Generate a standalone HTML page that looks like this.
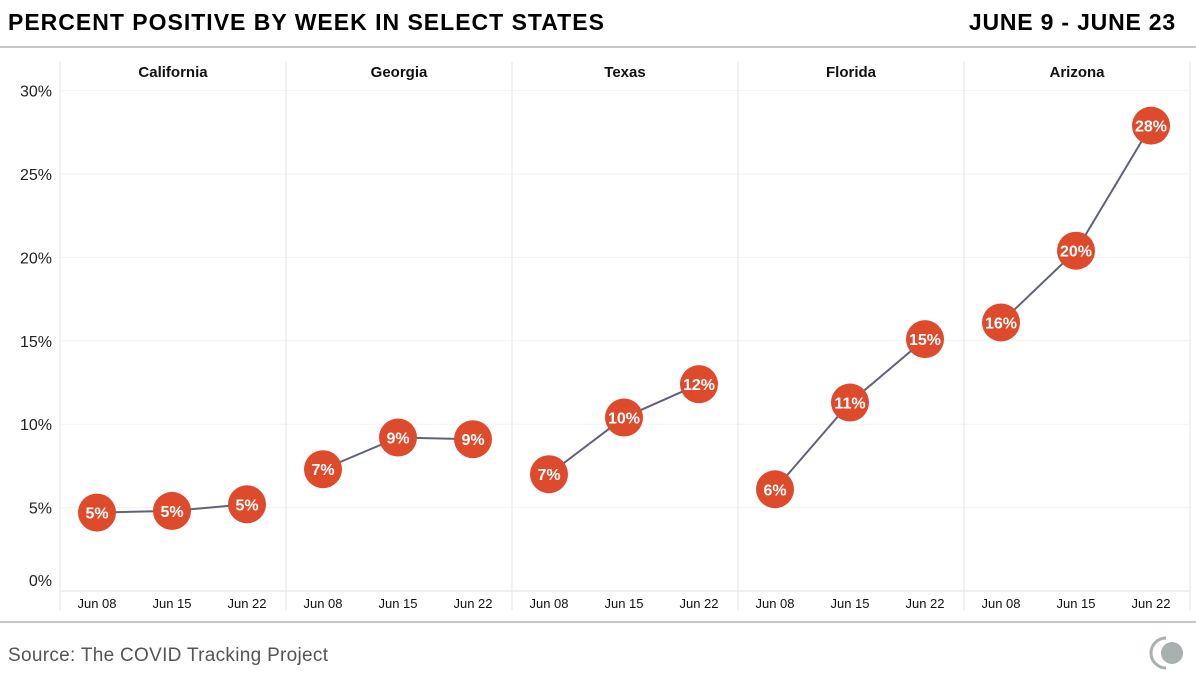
<!DOCTYPE html>
<html><head><meta charset="utf-8"><style>
body{margin:0;background:#fff;width:1196px;height:681px;overflow:hidden;font-family:"Liberation Sans",sans-serif}
</style></head><body>
<svg id="c" width="1196" height="681" xmlns="http://www.w3.org/2000/svg">
<text x="8" y="30" font-size="23" font-weight="bold" fill="#000" letter-spacing="1">PERCENT POSITIVE BY WEEK IN SELECT STATES</text>
<text x="1176" y="30" font-size="23" font-weight="bold" fill="#000" text-anchor="end" letter-spacing="0.8">JUNE 9 - JUNE 23</text>
<line x1="0" y1="47" x2="1196" y2="47" stroke="#b5b5b5" stroke-width="1.5"/>
<line x1="0" y1="622" x2="1196" y2="622" stroke="#b5b5b5" stroke-width="1.5"/>
<text x="8" y="661" font-size="19" fill="#555" letter-spacing="0.3">Source: The COVID Tracking Project</text>
<g>
<path d="M1166 638 A15 15 0 0 0 1166 668" fill="none" stroke="#a8b0b0" stroke-width="3"/>
<circle cx="1172" cy="653" r="11" fill="#a8b0b0"/>
</g>
<g id="plot"></g>
</svg>
<script>
const states=["California","Georgia","Texas","Florida","Arizona"];
const weeks=["Jun 08","Jun 15","Jun 22"];
const california=[4.7,4.8,5.2];
const georgia=[7.3,9.2,9.1];
const texas=[7.0,10.4,12.4];
const florida=[6.1,11.3,15.1];
const arizona=[16.1,20.4,27.9];
const series=[california,georgia,texas,florida,arizona];
const yTicks=[0,5,10,15,20,25,30];

const NS="http://www.w3.org/2000/svg";
const g=document.getElementById('plot');
const left=60,panelW=226,y0=591,pxPer=16.68;
const y=v=>y0-v*pxPer;
const x=(p,i)=>left+p*panelW+37+i*75;
function mk(t,a){const e=document.createElementNS(NS,t);for(const k in a)e.setAttribute(k,a[k]);g.appendChild(e);return e;}

yTicks.forEach(t=>{
  const l=mk('line',{x1:left,x2:left+panelW*states.length,y1:y(t),y2:y(t),stroke:t===0?'#e2e2e2':'#f3f3f3','stroke-width':1});
  
  
  const tx=mk('text',{x:52,y:(t===0?y(t)-5:y(t)+6),'font-size':16,fill:'#222','text-anchor':'end'});
  tx.textContent=t+'%';
  
  
});
for(let p=0;p<=states.length;p++){
  const l=mk('line',{x1:left+p*panelW,x2:left+p*panelW,y1:62,y2:610,stroke:'#e6e6e6','stroke-width':1});
  
  
}
states.forEach((s,p)=>{
  const h=mk('text',{x:left+p*panelW+panelW/2,y:77,'font-size':15,'font-weight':'bold',fill:'#111','text-anchor':'middle'});
  h.textContent=s;
  
  
  weeks.forEach((w,i)=>{
    const t=mk('text',{x:x(p,i),y:608,'font-size':13,fill:'#111','text-anchor':'middle'});
    t.textContent=w;
    
    
  });
  const vals=series[p];
  const pl=mk('polyline',{points:vals.map((v,i)=>x(p,i)+','+y(v)).join(' '),fill:'none',stroke:'#5f6375','stroke-width':2});
  
  
  vals.forEach((v,i)=>{
    const c=mk('circle',{cx:x(p,i),cy:y(v),r:19,fill:'#de4a2c'});
    
    
    const t=mk('text',{x:x(p,i),y:y(v)+6,'font-size':16,'font-weight':'bold',fill:'#fff','text-anchor':'middle'});
    t.textContent=Math.round(v)+'%';
    
    
  });
});
</script>
</body></html>
